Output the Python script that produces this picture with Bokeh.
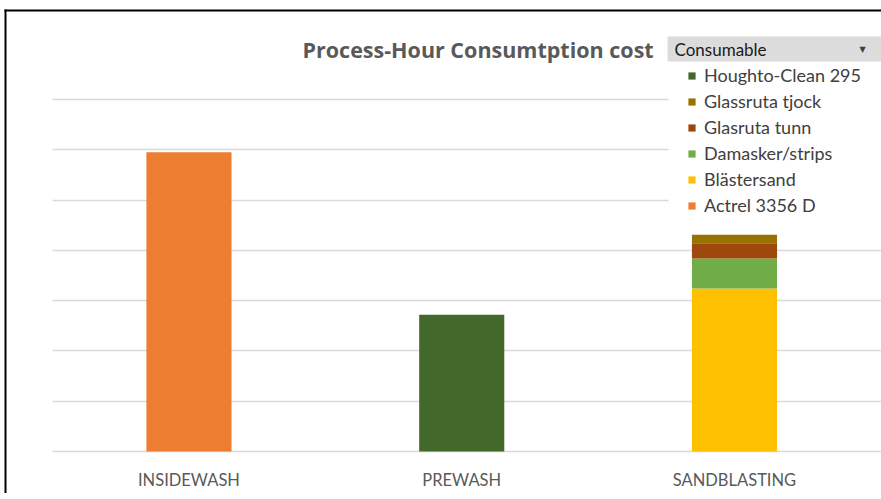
from bokeh.plotting import figure
from bokeh.models import (Range1d, FixedTicker, Legend, LegendItem,
                          Label, BoxAnnotation, ColumnDataSource)
from bokeh.core.properties import value
from bokeh.embed import file_html
from bokeh.resources import INLINE

# ---- data ----
categories = ["INSIDEWASH", "PREWASH", "SANDBLASTING"]
actrel_3356_d = [5.95, 0, 0]
houghto_clean_295 = [0, 2.72, 0]
blastersand = [0, 0, 3.24]
damasker_strips = [0, 0, 0.60]
glasruta_tunn = [0, 0, 0.30]
glassruta_tjock = [0, 0, 0.17]

series_names = ["Actrel 3356 D", "Houghto-Clean 295", "Blästersand",
                "Damasker/strips", "Glasruta tunn", "Glassruta tjock"]
series_values = [actrel_3356_d, houghto_clean_295, blastersand,
                 damasker_strips, glasruta_tunn, glassruta_tjock]
series_colors = ["#ED7D31", "#43682B", "#FFC000", "#70AD47", "#9E480E", "#997300"]
legend_order = ["Houghto-Clean 295", "Glassruta tjock", "Glasruta tunn",
                "Damasker/strips", "Blästersand", "Actrel 3356 D"]
grid_ticks = [0, 1, 2, 3, 4, 5, 6, 7]
title_text = "Process-Hour Consumtption cost"
filter_text = "Consumable"

# ---- figure ----
positions = list(range(len(categories)))
keys = ["s%d" % i for i in range(len(series_names))]
data = {"pos": positions}
for k, v in zip(keys, series_values):
    data[k] = v
src = ColumnDataSource(data)

p = figure(x_range=Range1d(-0.691, 2.539), y_range=Range1d(-0.835, 8.968),
           width=881, height=493, output_backend="svg", toolbar_location=None,
           min_border=0, min_border_left=0, min_border_right=0,
           min_border_top=0, min_border_bottom=0, outline_line_color=None,
           background_fill_color="white", border_fill_color="white")

rends = p.vbar_stack(stackers=keys, x="pos", width=0.312, source=src,
                     fill_color=series_colors, line_color=None)

p.yaxis.visible = False
p.yaxis.ticker = FixedTicker(ticks=grid_ticks)
p.ygrid.ticker = FixedTicker(ticks=grid_ticks)
p.ygrid.grid_line_color = "#d9d9d9"
p.ygrid.grid_line_width = 1.3
p.xgrid.grid_line_color = None

xa = p.xaxis[0]
xa.fixed_location = 0
xa.ticker = FixedTicker(ticks=positions)
xa.major_label_overrides = {pos: cat for pos, cat in zip(positions, categories)}
xa.axis_line_color = None
xa.major_tick_line_color = None
xa.minor_tick_line_color = None
xa.major_tick_out = 0
xa.major_tick_in = 0
xa.major_label_standoff = 18
xa.major_label_text_font = "Lato"
xa.major_label_text_font_size = "16.5px"
xa.major_label_text_color = "#595959"

# white margin at the left of the plot area (grid lines start further right)
p.add_layout(BoxAnnotation(left=-2, right=52, bottom=-3, top=500,
                           left_units="screen", right_units="screen",
                           bottom_units="screen", top_units="screen",
                           fill_color="white", fill_alpha=1.0, line_color=None))

# black frame lines (left and top) of the pasted chart picture
p.add_layout(BoxAnnotation(left=4, right=6, bottom=-3, top=484,
                           left_units="screen", right_units="screen",
                           bottom_units="screen", top_units="screen",
                           fill_color="black", fill_alpha=1.0, line_color=None))
p.add_layout(BoxAnnotation(left=4, right=890, bottom=482, top=484,
                           left_units="screen", right_units="screen",
                           bottom_units="screen", top_units="screen",
                           fill_color="black", fill_alpha=1.0, line_color=None))

# white area behind the legend (covers the grid lines)
p.add_layout(BoxAnnotation(left=668, right=890, bottom=273, top=429,
                           left_units="screen", right_units="screen",
                           bottom_units="screen", top_units="screen",
                           fill_color="white", fill_alpha=1.0, line_color=None))

items = [LegendItem(label=value(n), renderers=[rends[series_names.index(n)]])
         for n in legend_order]
legend = Legend(items=items, location=(687, 277), padding=0, spacing=4,
                glyph_width=9, glyph_height=9, label_standoff=8, label_height=22,
                label_text_font="Lato", label_text_font_size="18px",
                label_text_color="#404040", background_fill_color="white",
                background_fill_alpha=0.0, border_line_color=None, margin=0)
p.add_layout(legend)

p.add_layout(Label(x=302, y=444.5, x_units="screen", y_units="screen", text=title_text,
                   text_align="left", text_baseline="middle", text_font="Open Sans",
                   text_font_style="bold", text_font_size="21.5px", text_color="#595959"))

p.add_layout(BoxAnnotation(left=667, right=890, bottom=432, top=457,
                           left_units="screen", right_units="screen",
                           bottom_units="screen", top_units="screen",
                           fill_color="#dcdcdc", fill_alpha=1.0, line_color=None))
p.add_layout(Label(x=674, y=444.5, x_units="screen", y_units="screen", text=filter_text,
                   text_align="left", text_baseline="middle", text_font="Lato",
                   text_font_size="17px", text_color="#1a1a1a"))
p.add_layout(Label(x=862, y=444, x_units="screen", y_units="screen", text="▼",
                   text_align="center", text_baseline="middle",
                   text_font="DejaVu Sans", text_font_size="8px", text_color="#404040"))

open("out.html", "w").write(file_html(p, INLINE))
